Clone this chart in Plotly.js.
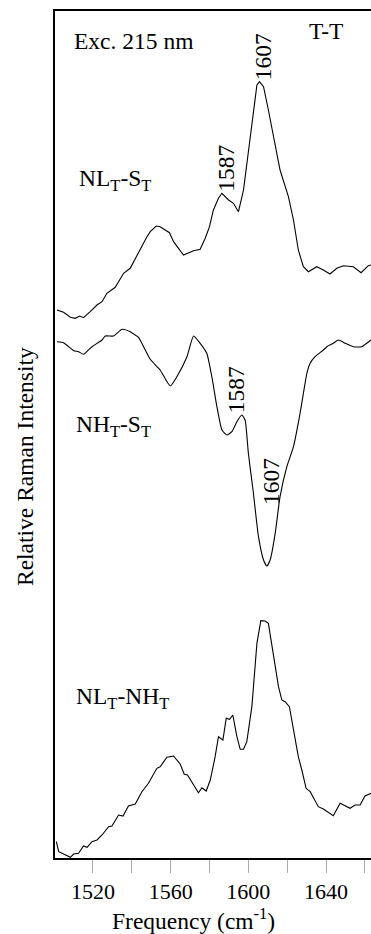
<!DOCTYPE html>
<html>
<head>
<meta charset="utf-8">
<script src="https://cdn.plot.ly/plotly-3.0.1.min.js"></script>
<style>html,body{margin:0;padding:0;background:#fff;}#chart{width:371px;height:934px;}</style>
</head>
<body>
<div id="chart"></div>
<script>
// Frequencies (cm-1) and relative intensities
const freqNLS = [1501.5,1504.9,1508.4,1510.9,1513.2,1515.2,1518.6,1522.1,1524.7,1527.2,1531.5,1535.8,1539.2,1541.8,1547.8,1549.5,1552.6,1554.6,1559.4,1561.5,1566.6,1571.8,1575.2,1577.8,1580.0,1582.0,1584.6,1586.4,1589.8,1592.3,1594.9,1597.5,1600.0,1602.6,1604.4,1605.7,1607.8,1610.3,1612.9,1616.3,1620.6,1623.2,1625.7,1628.3,1630.9,1635.2,1638.6,1642.0,1645.5,1648.9,1654.0,1658.0,1661.7,1663.1];
const intNLS = [8,5.7,0.7,-0.3,2,0.3,6.3,13,16.3,24.7,30.7,44.7,49.7,59.7,81.3,86.3,92,91.3,85.3,76.3,63,67.3,68.7,79.7,91.3,108,119.7,124.7,118,114.7,106.3,128,164.7,204.7,233,236.3,231.3,208,181.3,148,121.3,98,68,51.3,46.3,51.3,48,44,49.7,52.3,51.3,45.3,52.3,53];

const freqNHS = [1501.5,1504.9,1510.1,1512.6,1515.2,1519.5,1524.7,1526.4,1530.6,1535.0,1539.2,1541.8,1543.5,1549.5,1554.6,1559.8,1563.2,1568.4,1571.8,1575.2,1578.6,1581.2,1583.8,1586.4,1588.9,1591.5,1594.1,1596.6,1598.3,1600.0,1602.6,1605.2,1607.8,1609.5,1611.2,1613.8,1616.3,1619.8,1623.2,1626.6,1630.1,1631.8,1634.3,1638.6,1640.4,1643.7,1646.3,1649.8,1654.0,1658.3,1663.1];
const intNHS = [16.3,15.3,7.3,6.3,3.7,11.3,18,22,22,28.7,26.3,23,20.7,-1.3,-12,-28,-18.7,1.3,22,14.7,4.7,-18.7,-48.7,-72,-77,-73.7,-63.7,-57,-62,-95.3,-135.3,-178.7,-202,-208,-202,-175.3,-138.7,-108.7,-88.7,-55.3,-15.3,-5.3,1.3,8,11.3,14.7,18,14.7,11.3,11.3,18];

const freqNLNH = [1501.2,1502.4,1504.9,1508.4,1510.1,1512.6,1515.2,1517.0,1519.5,1522.1,1524.7,1528.1,1529.8,1533.2,1535.5,1538.3,1541.8,1545.2,1548.6,1552.9,1554.6,1558.1,1561.5,1564.9,1567.0,1568.7,1574.3,1576.1,1578.3,1580.4,1582.9,1584.6,1586.9,1588.6,1590.3,1592.0,1594.1,1595.8,1597.5,1599.2,1601.8,1604.4,1606.4,1608.6,1610.3,1612.9,1615.5,1617.2,1618.9,1621.1,1623.2,1625.7,1627.5,1629.7,1631.8,1636.0,1638.6,1643.7,1647.2,1652.3,1654.9,1657.5,1660.0,1663.1];
const intNLNH = [16.3,6.3,4,0.7,4,4.7,12,10.7,16.3,18,23,31.3,32,43,42,52,54,66.3,74.7,89.7,91.3,100.7,102,94,83.7,83,65.3,70.3,67,78,101.3,121.3,118,139.7,138.7,143,121.3,108.7,108.7,116.3,151.3,214.7,237.3,237,234.7,204.7,171.3,158,156.3,151.3,128,101.3,88,69.7,66.3,51.3,49,42.3,54.7,49.7,53,53,62,64.7];

// vertical stacking offsets of the difference spectra
const offsetNLS = 540;
const offsetNHS = 500;
const offsetNLNH = 0;

const tickVals = [1520,1540,1560,1580,1600,1620,1640,1660];
const tickText = ['1520','','1560','','1600','','1640',''];

const FONT = 'Liberation Serif, Times New Roman, Times, serif';
const line = {color:'#000', width:1.1};

const traces = [
  {x: freqNLS, y: intNLS.map(v => v + offsetNLS), type:'scatter', mode:'lines', line: line, hoverinfo:'skip'},
  {x: freqNHS, y: intNHS.map(v => v + offsetNHS), type:'scatter', mode:'lines', line: Object.assign({shape:'spline', smoothing:0.5}, line), hoverinfo:'skip'},
  {x: freqNLNH, y: intNLNH.map(v => v + offsetNLNH), type:'scatter', mode:'lines', line: line, hoverinfo:'skip'}
];

function ann(text, x, y, opts) {
  return Object.assign({text: text, x: x, y: y, xref:'x', yref:'y', showarrow:false,
    font:{family:FONT, size:23.5, color:'#000'}}, opts || {});
}

const layout = {
  width: 371, height: 934,
  margin: {l:55, r:0, t:11, b:76},
  paper_bgcolor:'#fff', plot_bgcolor:'#fff',
  showlegend:false,
  font:{family:FONT, color:'#000'},
  xaxis: {
    range:[1500.5, 1663.1],
    tickvals: tickVals, ticktext: tickText,
    ticks:'outside', ticklen:13, tickwidth:1, tickcolor:'#aaa',
    tickfont:{family:FONT, size:22, color:'#000'},
    ticklabelstandoff: 0,
    showline:true, linewidth:2, linecolor:'#000', mirror:true,
    showgrid:false, zeroline:false, fixedrange:true
  },
  yaxis: {
    range:[0, 847],
    showticklabels:false, ticks:'',
    showline:true, linewidth:2, linecolor:'#000',
    showgrid:false, zeroline:false, fixedrange:true
  },
  annotations: [
    ann('Exc. 215 nm', 1509.0, 817, {xanchor:'left', yanchor:'middle'}),
    ann('T-T', 1640.0, 827, {xanchor:'center', yanchor:'middle'}),
    ann('1607', 1607.6, 801, {textangle:-90}),
    ann('NL<sub>T</sub>-S<sub>T</sub>', 1511.8, 678, {xanchor:'left', yanchor:'middle'}),
    ann('1587', 1588.3, 690, {textangle:-90}),
    ann('NH<sub>T</sub>-S<sub>T</sub>', 1510.2, 432, {xanchor:'left', yanchor:'middle'}),
    ann('1587', 1593.7, 468, {textangle:-90}),
    ann('1607', 1611.7, 376, {textangle:-90}),
    ann('NL<sub>T</sub>-NH<sub>T</sub>', 1510.2, 160, {xanchor:'left', yanchor:'middle'}),
    {text:'Frequency (cm<sup>-1</sup>)', xref:'paper', yref:'paper', x:0.437, y:-0.072,
     xanchor:'center', yanchor:'middle', showarrow:false, font:{family:FONT, size:23.5, color:'#000'}},
    {text:'Relative Raman Intensity', xref:'paper', yref:'paper', x:-0.0949, y:0.4616,
     xanchor:'center', yanchor:'middle', textangle:-90, showarrow:false, font:{family:FONT, size:23.5, color:'#000'}}
  ]
};

Plotly.newPlot('chart', traces, layout, {displayModeBar:false, staticPlot:true});
</script>
</body>
</html>
